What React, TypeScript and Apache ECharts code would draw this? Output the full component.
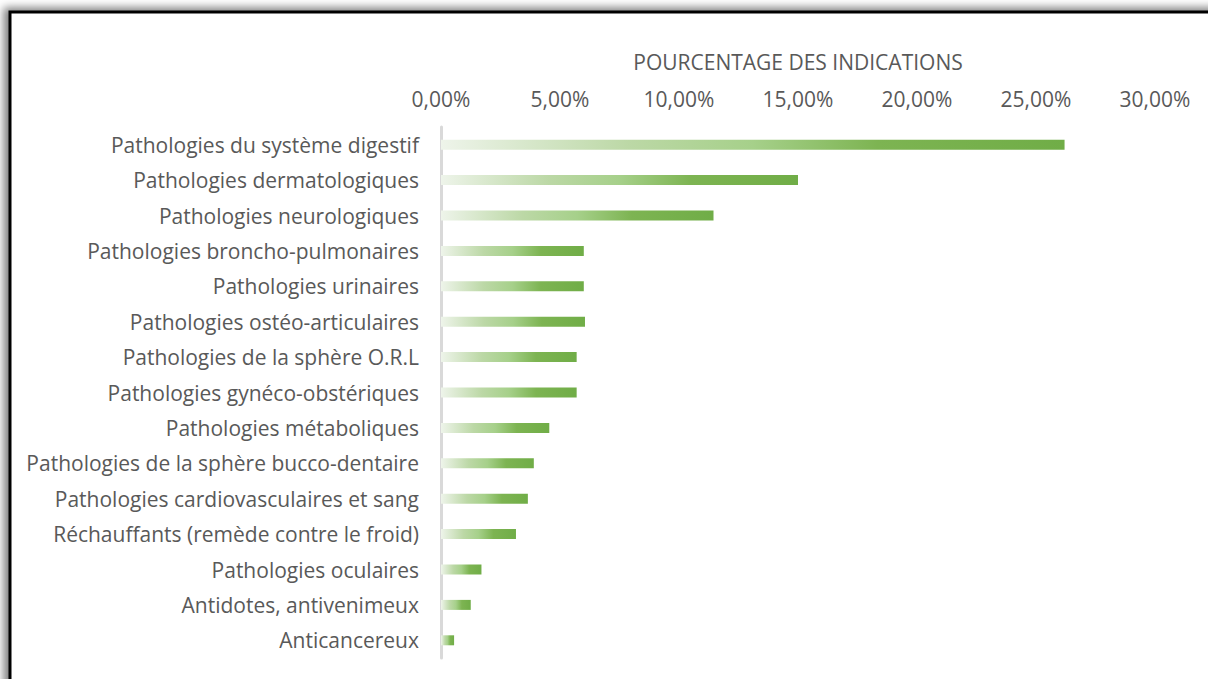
import React, { useEffect, useRef } from "react";
import * as echarts from "echarts";

const categories = [
  "Pathologies du système digestif",
  "Pathologies dermatologiques",
  "Pathologies neurologiques",
  "Pathologies broncho-pulmonaires",
  "Pathologies urinaires",
  "Pathologies ostéo-articulaires",
  "Pathologies de la sphère O.R.L",
  "Pathologies gynéco-obstériques",
  "Pathologies métaboliques",
  "Pathologies de la sphère bucco-dentaire",
  "Pathologies cardiovasculaires et sang",
  "Réchauffants (remède contre le froid)",
  "Pathologies oculaires",
  "Antidotes, antivenimeux",
  "Anticancereux",
];

const values = [26.2, 15.0, 11.45, 6.0, 6.0, 6.05, 5.7, 5.7, 4.55, 3.9, 3.65, 3.15, 1.7, 1.25, 0.55];

const axisTitle = "POURCENTAGE DES INDICATIONS";

const fmt = (v: number) => v.toFixed(2).replace(".", ",") + "%";

export default function App() {
  const ref = useRef<HTMLDivElement>(null);
  useEffect(() => {
    const chart = echarts.init(ref.current!, null, { renderer: "svg" });
    const font = "Open Sans";
    const fs = 21;
    chart.setOption({
      animation: false,
      backgroundColor: "#ffffff",
      textStyle: { fontFamily: font },
      graphic: [
        {
          type: "rect",
          shape: { x: 10, y: 12, width: 1400, height: 900 },
          style: {
            fill: "#ffffff",
            stroke: "#000000",
            lineWidth: 3,
            shadowBlur: 9,
            shadowOffsetX: -5,
            shadowOffsetY: -3,
            shadowColor: "rgba(0,0,0,0.5)",
          },
          z: -10,
          silent: true,
        },
      ],
      grid: { left: 441, right: 53, top: 127, bottom: 21, containLabel: false },
      xAxis: {
        type: "value",
        position: "top",
        min: 0,
        max: 30,
        interval: 5,
        name: axisTitle,
        nameLocation: "middle",
        nameGap: 55,
        nameTextStyle: { color: "#595959", fontSize: fs, fontFamily: font },
        axisLine: { show: false },
        axisTick: { show: false },
        splitLine: { show: false },
        axisLabel: {
          color: "#595959",
          fontSize: fs,
          fontFamily: font,
          margin: 18,
          formatter: (v: number) => fmt(v),
        },
      },
      yAxis: {
        type: "category",
        inverse: true,
        data: categories,
        axisLine: { show: true, lineStyle: { color: "#d9d9d9", width: 3 } },
        axisTick: { show: false },
        axisLabel: { color: "#595959", fontSize: fs, fontFamily: font, margin: 22 },
      },
      series: [
        {
          type: "bar",
          data: values,
          barWidth: 10,
          itemStyle: {
            color: new echarts.graphic.LinearGradient(0, 0, 1, 0, [
              { offset: 0, color: "#eef4ea" },
              { offset: 0.3, color: "#bcd8a6" },
              { offset: 0.5, color: "#a6d08a" },
              { offset: 0.7, color: "#7db452" },
              { offset: 1, color: "#70ad47" },
            ]),
          },
        },
      ],
    });
    return () => chart.dispose();
  }, []);
  return (
    <div
      ref={ref}
      style={{ position: "fixed", left: 0, top: 0, width: 1208, height: 679 }}
    />
  );
}
